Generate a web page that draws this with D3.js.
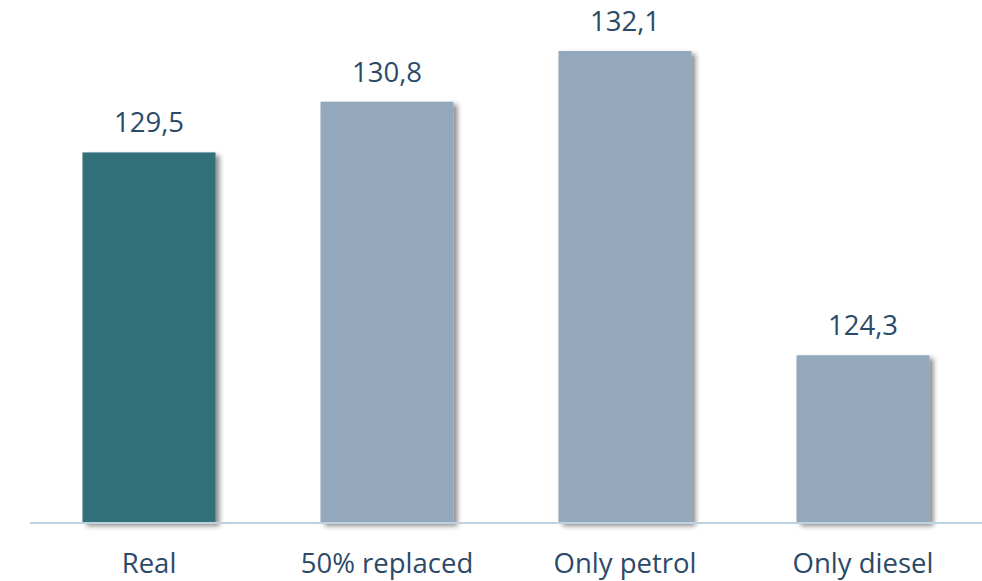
<!DOCTYPE html>
<html>
<head>
<meta charset="utf-8">
<script src="https://cdn.jsdelivr.net/npm/d3@7"></script>
<style>
  html, body { margin: 0; padding: 0; background: #ffffff; }
  svg { display: block; }
</style>
</head>
<body>
<svg id="chart" width="982" height="581"></svg>
<script>
const categories = ["Real", "50% replaced", "Only petrol", "Only diesel"];
const values = [129.5, 130.8, 132.1, 124.3];
const valueLabels = ["129,5", "130,8", "132,1", "124,3"];
const barColors = ["#31707A", "#93A8BC", "#93A8BC", "#93A8BC"];

const svg = d3.select("#chart");
const baseY = 523;

const defs = svg.append("defs");
const f = defs.append("filter").attr("id", "shadow")
  .attr("x", "-10%").attr("y", "-10%").attr("width", "130%").attr("height", "130%");
f.append("feDropShadow").attr("dx", 4).attr("dy", 3).attr("stdDeviation", 2.5)
  .attr("flood-color", "#000").attr("flood-opacity", 0.45);

const x = d3.scaleBand().domain(categories).range([30, 982])
  .paddingInner(0.441).paddingOuter(0.2205);
const y = d3.scaleLinear().domain([120, 132.1]).range([baseY, 51]);

const font = "'Open Sans', 'Noto Sans', sans-serif";
const textColor = "#2C4A68";

svg.append("g").selectAll("rect").data(values).join("rect")
  .attr("x", (d, i) => x(categories[i]))
  .attr("y", d => y(d))
  .attr("width", x.bandwidth())
  .attr("height", d => baseY - y(d))
  .attr("fill", (d, i) => barColors[i])
  .attr("filter", "url(#shadow)");

svg.append("line")
  .attr("x1", 30).attr("x2", 982).attr("y1", baseY).attr("y2", baseY)
  .attr("stroke", "#BFD0DF").attr("stroke-width", 2);

svg.append("g").selectAll("text").data(values).join("text")
  .attr("x", (d, i) => x(categories[i]) + x.bandwidth() / 2)
  .attr("y", d => y(d) - 20)
  .attr("text-anchor", "middle")
  .attr("font-family", font).attr("font-size", 27.5)
  .attr("fill", textColor)
  .text((d, i) => valueLabels[i]);

const axis = d3.axisBottom(x).tickSize(0).tickPadding(0);
const ag = svg.append("g").attr("transform", `translate(0,${baseY})`).call(axis);
ag.select(".domain").remove();
ag.selectAll("text")
  .attr("dy", null)
  .attr("y", 50)
  .attr("font-family", font).attr("font-size", 27.5)
  .attr("fill", textColor);
</script>
</body>
</html>
